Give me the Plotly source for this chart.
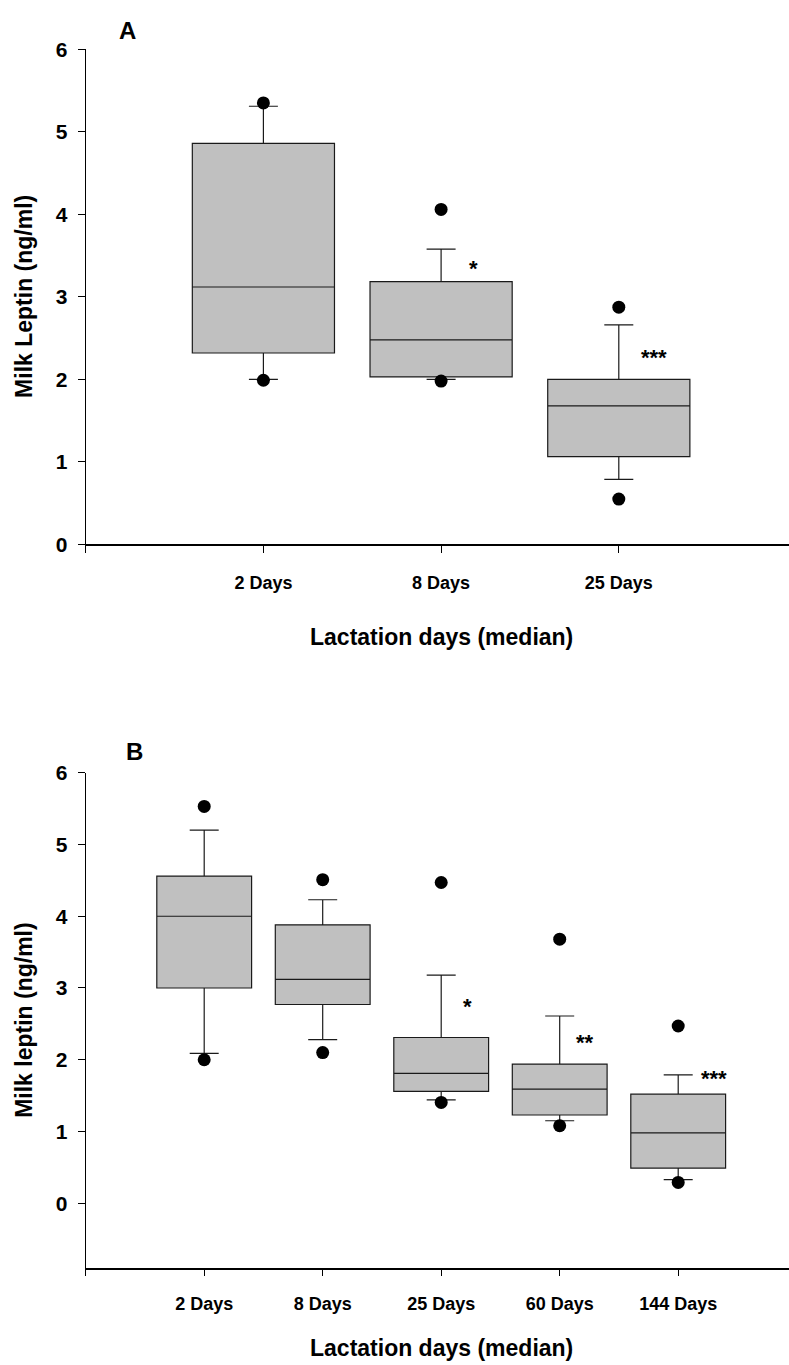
import plotly.graph_objects as go

W, H = 789, 1365
FONT = "Arial, 'Liberation Sans', Helvetica, sans-serif"

# ---------------- Panel A data ----------------
cats_a = ["2 Days", "8 Days", "25 Days"]
a_q1 = [2.32, 2.03, 1.065]
a_median = [3.12, 2.48, 1.68]
a_q3 = [4.86, 3.185, 2.00]
a_lower = [2.00, 2.00, 0.79]
a_upper = [5.31, 3.58, 2.66]
a_p5 = [1.99, 1.98, 0.55]
a_p95 = [5.35, 4.06, 2.875]
a_sig = ["", "*", "***"]

# ---------------- Panel B data ----------------
cats_b = ["2 Days", "8 Days", "25 Days", "60 Days", "144 Days"]
b_q1 = [3.00, 2.77, 1.56, 1.23, 0.49]
b_median = [4.00, 3.12, 1.81, 1.59, 0.98]
b_q3 = [4.56, 3.88, 2.31, 1.94, 1.52]
b_lower = [2.09, 2.28, 1.44, 1.15, 0.33]
b_upper = [5.20, 4.23, 3.18, 2.61, 1.79]
b_p5 = [2.00, 2.10, 1.405, 1.08, 0.29]
b_p95 = [5.53, 4.51, 4.47, 3.68, 2.47]
b_sig = ["", "", "*", "**", "***"]

# significance marker placement (data units: offset right of box centre, y level)
a_sig_pos = [None, (0.18, 3.34), (0.20, 2.27)]
b_sig_pos = [None, None, (0.22, 2.74), (0.21, 2.24), (0.30, 1.74)]

BOX_FILL = "#c0c0c0"
BOX_LINE = "#1a1a1a"

fig = go.Figure()

def add_panel(cats, q1, med, q3, lo, hi, p5, p95, xa, ya, whisk):
    pos = list(range(1, len(cats) + 1))
    fig.add_trace(go.Box(
        x=pos, q1=q1, median=med, q3=q3, lowerfence=lo, upperfence=hi,
        width=0.8, whiskerwidth=whisk, fillcolor=BOX_FILL,
        line=dict(color=BOX_LINE, width=1.2), boxpoints=False,
        xaxis=xa, yaxis=ya, showlegend=False, hoverinfo="skip"))
    fig.add_trace(go.Scatter(
        x=pos + pos, y=p95 + p5, mode="markers",
        marker=dict(color="black", size=13, line=dict(width=0)),
        xaxis=xa, yaxis=ya, showlegend=False, hoverinfo="skip"))

add_panel(cats_a, a_q1, a_median, a_q3, a_lower, a_upper, a_p5, a_p95, "x", "y", 0.204)
add_panel(cats_b, b_q1, b_median, b_q3, b_lower, b_upper, b_p5, b_p95, "x2", "y2", 0.306)

# page -> paper mapping (compensates the vertical offset/scale seen in the capture)
V_OFF, V_SCALE = 8.2, 0.988

def px_x(p):
    return p / W

def px_y(p):
    return 1 - ((p - V_OFF) / V_SCALE) / H

x_left = 85.7
a_step, b_step = 177.7, 118.5

common_x = dict(showline=True, linecolor="black", linewidth=1.5, ticks="outside",
                ticklen=7, tickwidth=1.3, tickcolor="black", showgrid=False,
                zeroline=False, type="linear",
                tickfont=dict(family=FONT, size=18, color="black", weight="bold"))
common_y = dict(showline=True, linecolor="black", linewidth=1.3, ticks="outside",
                ticklen=7, tickwidth=1.3, tickcolor="black", showgrid=False,
                zeroline=False, tickvals=[0, 1, 2, 3, 4, 5, 6], ticklabelstandoff=6,
                tickfont=dict(family=FONT, size=21, color="black", weight="bold"))

fig.update_layout(
    width=W, height=H, margin=dict(l=0, r=0, t=0, b=0),
    paper_bgcolor="white", plot_bgcolor="white", showlegend=False,
    xaxis=dict(domain=[px_x(x_left), 1], range=[0, (W - x_left) / a_step],
               tickvals=[0] + list(range(1, len(cats_a) + 1)), ticktext=[""] + cats_a,
               ticklabelstandoff=14, anchor="y", **common_x),
    yaxis=dict(domain=[px_y(543.3), px_y(45.7)], range=[0, 6], anchor="x", **common_y),
    xaxis2=dict(domain=[px_x(x_left), 1], range=[0, (W - x_left) / b_step],
                tickvals=[0] + list(range(1, len(cats_b) + 1)), ticktext=[""] + cats_b,
                ticklabelstandoff=12, anchor="y2", **common_x),
    yaxis2=dict(domain=[px_y(1270), px_y(772.7)], range=[-0.897, 6], anchor="x2", **common_y),
)

ann = []
star_font = dict(family=FONT, size=22, color="black", weight="bold")
for i, sp in enumerate(a_sig_pos):
    if sp:
        ann.append(dict(x=i + 1 + sp[0], y=sp[1], xref="x", yref="y", text=a_sig[i],
                        showarrow=False, font=star_font, xanchor="center", yanchor="middle"))
for i, sp in enumerate(b_sig_pos):
    if sp:
        ann.append(dict(x=i + 1 + sp[0], y=sp[1], xref="x2", yref="y2", text=b_sig[i],
                        showarrow=False, font=star_font, xanchor="center", yanchor="middle"))

title_font = dict(family=FONT, size=23, color="black", weight="bold")
letter_font = dict(family=FONT, size=24, color="black", weight="bold")

def paper_text(px, py, text, font, angle=0):
    return dict(x=px_x(px), y=px_y(py), xref="paper", yref="paper", text=text,
                textangle=angle, showarrow=False, font=font,
                xanchor="center", yanchor="middle")

ann.append(paper_text(128, 26.5, "A", letter_font))
ann.append(paper_text(134, 751, "B", letter_font))
ann.append(paper_text(24, 294.5, "Milk Leptin (ng/ml)", title_font, -90))
ann.append(paper_text(24, 1021, "Milk leptin (ng/ml)", title_font, -90))
ann.append(paper_text(441, 636, "Lactation days (median)", title_font))
ann.append(paper_text(441, 1351, "Lactation days (median)", title_font))
fig.update_layout(annotations=ann)

fig.write_html(
    "out.html",
    config={"displayModeBar": False},
    post_script="document.body.style.margin='0';document.body.style.overflow='hidden';",
)
